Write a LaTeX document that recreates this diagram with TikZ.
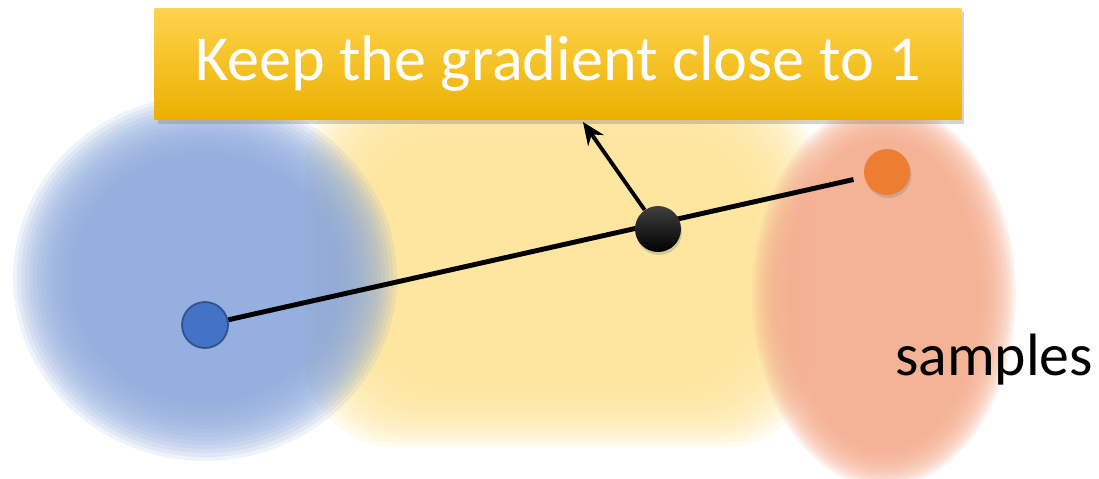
\documentclass[tikz,border=0pt]{standalone}
\usepackage{fontspec}
\setmainfont{Carlito}
\usetikzlibrary{arrows.meta, shadows}
\definecolor{cblob}{HTML}{8DA9DB}
\definecolor{cyel}{HTML}{FEE499}
\definecolor{cpeach}{HTML}{F4AD8E}
\definecolor{cdotblue}{HTML}{4472C4}
\definecolor{cdotedge}{HTML}{2F528F}
\definecolor{cdotorange}{HTML}{ED7D31}
\definecolor{cgold}{HTML}{FFC000}
\tikzset{
  dot/.style={circle, minimum size=0.92cm, inner sep=0pt},
  banner/.style={minimum width=16.14cm, minimum height=2.24cm, inner sep=0pt,
    top color=cgold!70!white, middle color=cgold, bottom color=cgold!92!black,
    drop shadow={shadow xshift=0.06cm, shadow yshift=-0.08cm, opacity=0.35},
    text=white, font=\fontsize{36.5}{44}\selectfont},
  link/.style={line width=2.8pt, black},
  arrow/.style={-{Stealth[length=4.5mm, width=3.8mm]}, line width=2.2pt, black},
  label/.style={font=\fontsize{34}{40}\selectfont, anchor=base west},
}
\begin{document}
\begin{tikzpicture}[x=0.02cm, y=-0.02cm]
  \useasboundingbox (0,0) rectangle (1099,478);
  % soft clouds
  \foreach \k in {0,...,15}
    \fill[cyel, opacity=0.15, rounded corners=1.8cm] ({305+4*\k},{75+4*\k}) rectangle ({815-4*\k},{447-4*\k});
  \foreach \k in {0,...,15}
    \fill[cblob, opacity=0.15] (205,278) ellipse ({192-4*\k} and {183-4*\k});
  \foreach \k in {0,...,15}
    \fill[cpeach, opacity=0.15] (884,295) ellipse ({132-2.5*\k} and {192-2.5*\k});

  \node[banner] (goal) at (558,64) {Keep the gradient close to 1};

  \node[dot, fill=cdotblue, draw=cdotedge, line width=1pt] (real) at (205,325) {};
  \node[dot, fill=cdotorange, drop shadow={shadow xshift=0.03cm, shadow yshift=-0.06cm, opacity=0.3}] (fake) at (887,172) {};
  \draw[link, shorten >=0.22cm] (real) -- (fake);
  \node[dot, top color=black!75, bottom color=black, drop shadow={shadow xshift=0.02cm, shadow yshift=-0.06cm, opacity=0.3}] (mix) at (658,229) {};

  \coordinate (tip) at (583,122);
  \draw[arrow] (mix) -- (tip);

  \node[label] (samp) at (889,375) {samples};
\end{tikzpicture}
\end{document}
